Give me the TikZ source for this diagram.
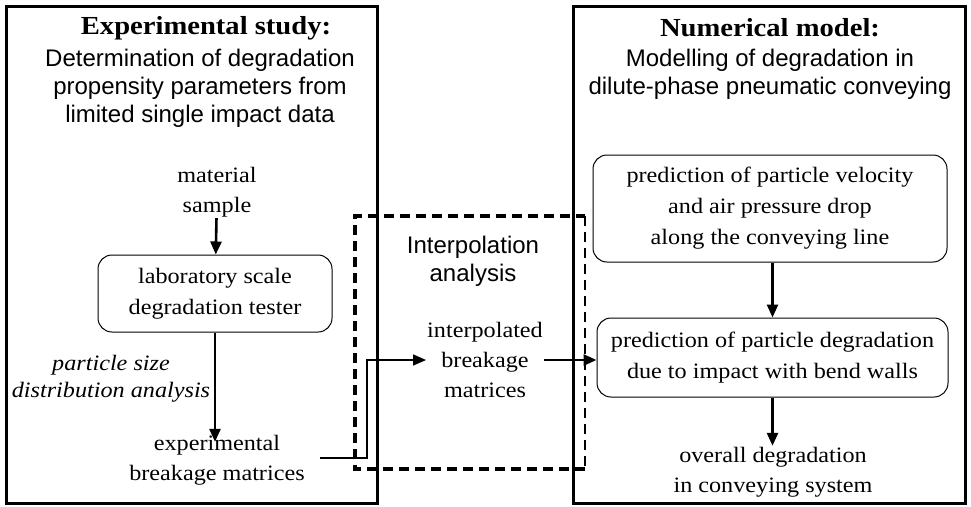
\documentclass[tikz,border=0pt]{standalone}
\usepackage{fontspec}
\setmainfont{Liberation Serif}[FakeStretch=1.1]
\setsansfont{Liberation Sans}
\usetikzlibrary{arrows.meta}

\tikzset{
  frame/.style={draw, line width=3pt},
  dashbox/.style={line width=3.5pt, dash pattern=on 10pt off 6pt},
  roundbox/.style={draw, rounded corners=14pt, line width=1pt, align=center,
    font=\fontsize{22}{31}\selectfont},
  txt/.style={align=center, font=\fontsize{22}{30}\selectfont, inner sep=1pt},
  sans/.style={align=center, font=\sffamily\fontsize{24}{28}\selectfont, inner sep=1pt},
  title/.style={font=\bfseries\fontsize{26}{28}\selectfont, inner sep=1pt},
  arr/.style={line width=2.6pt, -{Triangle[length=13pt,width=11pt]}},
  link/.style={line width=1.6pt, -{Triangle[length=13pt,width=11pt]}}
}

\begin{document}
\begin{tikzpicture}[x=1pt, y=-1pt]
    \useasboundingbox (0,0) rectangle (971,506);

    % 外枠
    \draw[frame] (6,6) rectangle (377,503);
    \draw[frame] (573,6) rectangle (965,503);
    \draw[dashbox] (585,469) -- (355,469) -- (355,216) -- (585,216);
    \draw[dashbox, line width=2pt] (585,216) -- (585,469);

    % 見出し
    \node[title] (T1) at (206,28) {Experimental study:};
    \node[sans] (S1) at (200,88) {Determination of degradation\\propensity parameters from\\limited single impact data};
    \node[title] (T2) at (770,28) {Numerical model:};
    \node[sans] (S2) at (770,74) {Modelling of degradation in\\dilute-phase pneumatic conveying};
    \node[sans] (S3) at (473,261) {Interpolation\\analysis};

    % ノード
    \node[txt] (MS) at (217,192) {material\\sample};
    \node[roundbox, minimum width=234pt, minimum height=77pt] (LT) at (215,293.5)
      {laboratory scale\\degradation tester};
    \node[txt, font=\itshape\fontsize{22}{27}\selectfont] (PS) at (111,379)
      {particle size\\distribution analysis};
    \node[txt] (EB) at (217,460) {experimental\\breakage matrices};
    \node[txt] (IB) at (485,360) {interpolated\\breakage\\matrices};
    \node[roundbox, minimum width=354pt, minimum height=107pt] (PV) at (770,208.5)
      {prediction of particle velocity\\and air pressure drop\\along the conveying line};
    \node[roundbox, minimum width=351pt, minimum height=79pt] (PD) at (772.5,357.5)
      {prediction of particle degradation\\due to impact with bend walls};
    \node[txt] (OD) at (773,472) {overall degradation\\in conveying system};

    % エッジ
    \coordinate (K0) at (320,458);
    \coordinate (K) at (367,458);
    \draw[arr] (MS) -- (LT);
    \draw[arr] (LT.south) -- ([yshift=-8pt]LT.south |- EB.north);
    \draw[link] (K0) -- (K) |- (IB.west);
    \draw[arr] (IB.east) -- (IB.east -| PD.west);
    \draw[arr] (PV.south -| PD.north) -- (PD.north);
    \draw[arr] (PD.south) -- (PD.south |- OD.north);
  \end{tikzpicture}
\end{document}
